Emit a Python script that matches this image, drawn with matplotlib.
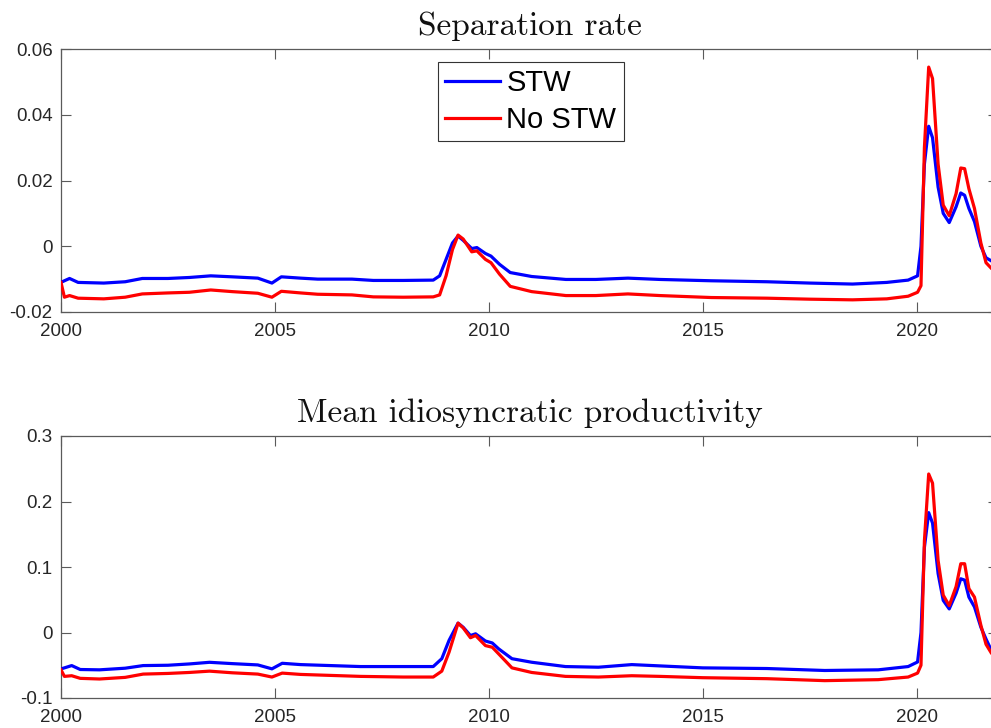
import matplotlib
matplotlib.use("Agg")
import matplotlib.pyplot as plt

plt.rcParams["font.family"] = "Liberation Sans"
plt.rcParams["axes.unicode_minus"] = False

# ---------------------------------------------------------------------------
# Data (decimal years)
# ---------------------------------------------------------------------------

years = [
    2000.00, 2000.08, 2000.20, 2000.40, 2001.00, 2001.50, 2001.90, 2002.50,
    2003.00, 2003.50, 2004.00, 2004.60, 2004.93, 2005.15, 2005.60, 2006.00,
    2006.80, 2007.30, 2008.00, 2008.70, 2008.85, 2009.00, 2009.15, 2009.28,
    2009.40, 2009.60, 2009.72, 2009.92, 2010.05, 2010.25, 2010.50, 2011.00,
    2011.80, 2012.50, 2013.25, 2014.00, 2015.20, 2016.50, 2017.50, 2018.50,
    2019.30, 2019.80, 2020.02, 2020.10, 2020.18, 2020.28, 2020.37, 2020.50,
    2020.62, 2020.76, 2020.92, 2021.03, 2021.12, 2021.22, 2021.35, 2021.50,
    2021.62, 2021.75, 2021.90,
]

sep_stw = [
    -0.0110, -0.0105, -0.0098, -0.0110, -0.0112, -0.0108, -0.0098, -0.0098,
    -0.0095, -0.0090, -0.0093, -0.0097, -0.0112, -0.0093, -0.0097, -0.0100,
    -0.0100, -0.0104, -0.0104, -0.0103, -0.0090, -0.0040, 0.0010, 0.0031,
    0.0018, -0.0007, -0.0004, -0.0022, -0.0030, -0.0055, -0.0080, -0.0092,
    -0.0101, -0.0101, -0.0097, -0.0101, -0.0105, -0.0108, -0.0112, -0.0115,
    -0.0110, -0.0103, -0.0090, 0.0000, 0.0250, 0.0365, 0.0330, 0.0180,
    0.0100, 0.0072, 0.0120, 0.0162, 0.0155, 0.0115, 0.0075, 0.0000,
    -0.0035, -0.0045, -0.0050,
]

sep_nostw = [
    -0.0110, -0.0155, -0.0150, -0.0158, -0.0160, -0.0155, -0.0145, -0.0142,
    -0.0140, -0.0133, -0.0138, -0.0143, -0.0155, -0.0137, -0.0142, -0.0146,
    -0.0148, -0.0154, -0.0155, -0.0154, -0.0148, -0.0090, -0.0010, 0.0034,
    0.0022, -0.0017, -0.0014, -0.0040, -0.0050, -0.0085, -0.0122, -0.0138,
    -0.0150, -0.0150, -0.0145, -0.0150, -0.0156, -0.0158, -0.0161, -0.0163,
    -0.0160, -0.0152, -0.0140, -0.0120, 0.0300, 0.0545, 0.0510, 0.0250,
    0.0125, 0.0093, 0.0160, 0.0238, 0.0236, 0.0175, 0.0115, 0.0010,
    -0.0050, -0.0068, -0.0072,
]

years_b = [
    2000.00, 2000.08, 2000.25, 2000.45, 2000.90, 2001.50, 2001.92, 2002.50,
    2003.00, 2003.47, 2004.00, 2004.60, 2004.93, 2005.17, 2005.60, 2006.30,
    2007.00, 2008.00, 2008.70, 2008.90, 2009.07, 2009.28, 2009.40, 2009.57,
    2009.69, 2009.92, 2010.08, 2010.23, 2010.54, 2011.00, 2011.79, 2012.56,
    2013.34, 2014.00, 2015.00, 2016.50, 2017.85, 2019.10, 2019.80, 2020.02,
    2020.10, 2020.18, 2020.28, 2020.37, 2020.50, 2020.62, 2020.76, 2020.92,
    2021.03, 2021.12, 2021.22, 2021.35, 2021.50, 2021.62, 2021.75, 2021.90,
]

prod_stw = [
    -0.0556, -0.0540, -0.0505, -0.0565, -0.0570, -0.0545, -0.0505, -0.0500,
    -0.0480, -0.0455, -0.0475, -0.0495, -0.0555, -0.0470, -0.0490, -0.0505,
    -0.0520, -0.0520, -0.0520, -0.0400, -0.0120, 0.0143, 0.0080, -0.0046,
    -0.0020, -0.0130, -0.0160, -0.0250, -0.0400, -0.0454, -0.0520, -0.0530,
    -0.0490, -0.0510, -0.0540, -0.0550, -0.0580, -0.0570, -0.0520, -0.0450,
    0.0000, 0.1300, 0.1830, 0.1670, 0.0900, 0.0490, 0.0360, 0.0600,
    0.0820, 0.0800, 0.0540, 0.0390, 0.0080, -0.0100, -0.0280, -0.0320,
]

prod_nostw = [
    -0.0570, -0.0670, -0.0660, -0.0700, -0.0710, -0.0685, -0.0635, -0.0625,
    -0.0610, -0.0590, -0.0615, -0.0635, -0.0680, -0.0620, -0.0640, -0.0655,
    -0.0670, -0.0680, -0.0680, -0.0590, -0.0300, 0.0143, 0.0070, -0.0080,
    -0.0046, -0.0200, -0.0225, -0.0327, -0.0540, -0.0610, -0.0670, -0.0680,
    -0.0660, -0.0670, -0.0690, -0.0705, -0.0735, -0.0720, -0.0680, -0.0620,
    -0.0500, 0.1400, 0.2420, 0.2280, 0.1100, 0.0570, 0.0410, 0.0700,
    0.1050, 0.1050, 0.0670, 0.0540, 0.0110, -0.0180, -0.0320, -0.0350,
]

xticks = [2000, 2005, 2010, 2015, 2020]
sep_yticks = [-0.02, 0, 0.02, 0.04, 0.06]
sep_ylabels = ["-0.02", "0", "0.02", "0.04", "0.06"]
prod_yticks = [-0.1, 0, 0.1, 0.2, 0.3]
prod_ylabels = ["-0.1", "0", "0.1", "0.2", "0.3"]

# ---------------------------------------------------------------------------
# Chart
# ---------------------------------------------------------------------------

W, H = 991, 728
fig = plt.figure(figsize=(W / 100, H / 100), dpi=100)
fig.patch.set_facecolor("white")

# axes run past the right edge, like the cropped original
ax1 = fig.add_axes([61 / W, 1 - 312 / H, 937 / W, 263 / H])
ax2 = fig.add_axes([61 / W, 1 - 698 / H, 937 / W, 262 / H])

BLUE = "#0000ff"
RED = "#ff0000"
AXC = "#5a5a5a"


def style(ax, yticks, ylabels, ylim, title):
    ax.set_xlim(2000, 2021.9)
    ax.set_ylim(*ylim)
    ax.set_xticks(xticks)
    ax.set_xticklabels([str(x) for x in xticks])
    ax.set_yticks(yticks)
    ax.set_yticklabels(ylabels)
    ax.tick_params(direction="in", length=7, width=0.8, top=True, right=True,
                   colors=AXC, labelcolor="#262626", labelsize=13.5, pad=6)
    ax.tick_params(axis="x", pad=8)
    for s in ax.spines.values():
        s.set_color(AXC)
        s.set_linewidth(0.9)
    ax.set_title(title, fontfamily="cmr10", fontsize=24, color="#111111", pad=10)


ax1.plot(years, sep_stw, color=BLUE, lw=2.3, label="STW", zorder=3)
ax1.plot(years, sep_nostw, color=RED, lw=2.3, label="No STW", zorder=4)
style(ax1, sep_yticks, sep_ylabels, (-0.02, 0.06), "Separation rate")

leg = ax1.legend(loc="upper left", bbox_to_anchor=(0.402, 0.951), fontsize=21,
                 frameon=True, fancybox=False, framealpha=1, handlelength=1.9,
                 handletextpad=0.2, borderpad=0.25, borderaxespad=0,
                 labelspacing=0.3)
leg.get_frame().set_edgecolor("#333333")
leg.get_frame().set_linewidth(0.8)

ax2.plot(years_b, prod_stw, color=BLUE, lw=2.3, zorder=3)
ax2.plot(years_b, prod_nostw, color=RED, lw=2.3, zorder=4)
style(ax2, prod_yticks, prod_ylabels, (-0.1, 0.3), "Mean idiosyncratic productivity")

fig.savefig("out.png", dpi=100, facecolor=fig.get_facecolor())
